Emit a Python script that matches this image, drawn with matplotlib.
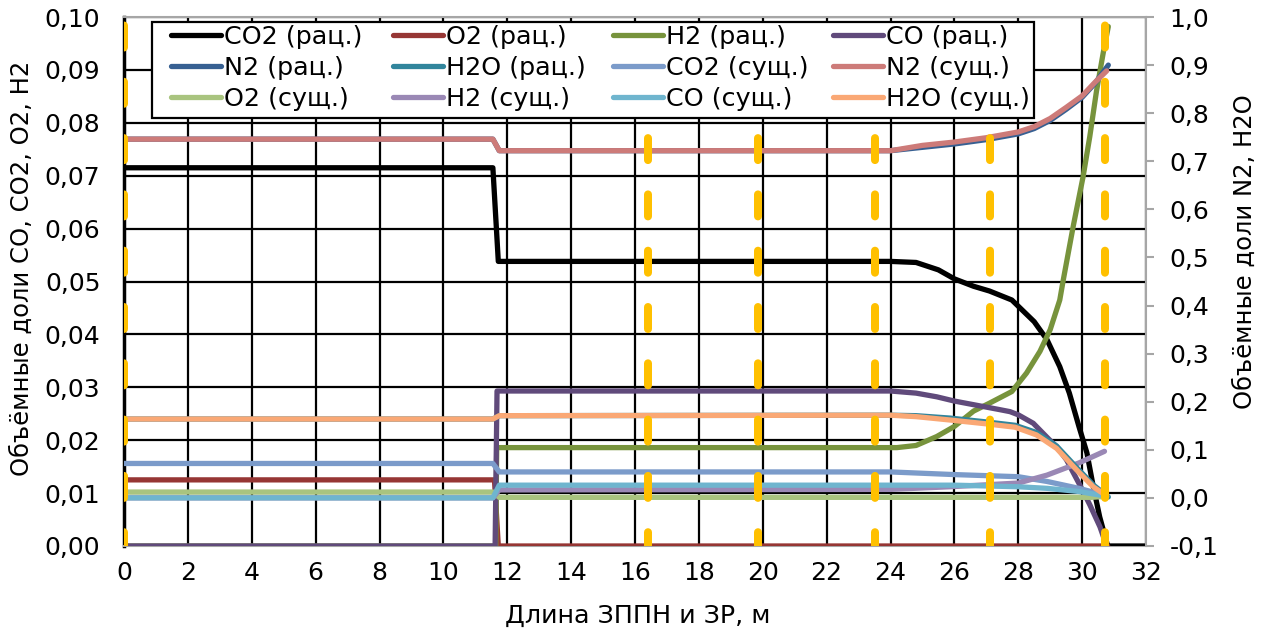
import matplotlib
matplotlib.use("Agg")
import matplotlib.pyplot as plt
from matplotlib.ticker import FuncFormatter, FixedLocator
from matplotlib.lines import Line2D
from matplotlib.patches import Rectangle

plt.rcParams['font.family'] = ['DejaVu Sans']
plt.rcParams['lines.scale_dashes'] = False

# ---------------- data ----------------
x_co2_rac = [0, 11.55, 11.72, 24.0, 24.8, 25.5, 26.0, 26.6, 27.1, 27.8, 28.5, 28.9, 29.3, 29.6, 29.9, 30.15, 30.35, 30.55, 30.8, 32.0]
y_co2_rac = [0.0715, 0.0715, 0.0538, 0.0538, 0.0536, 0.0522, 0.0505, 0.0491, 0.0482, 0.0465, 0.0424, 0.0390, 0.0339, 0.0289, 0.0226, 0.0176, 0.0112, 0.0055, 0.0, 0.0]

x_o2_rac = [0, 11.6, 11.72, 30.8]
y_o2_rac = [0.0125, 0.0125, 0.0, 0.0]

x_h2_rac = [0, 11.64, 11.67, 24.2, 24.8, 25.45, 26.0, 26.6, 27.1, 27.8, 28.26, 28.68, 29.0, 29.3, 29.41, 29.72, 30.03, 30.24, 30.45, 30.66, 30.82]
y_h2_rac = [0, 0, 0.0186, 0.0186, 0.0190, 0.0207, 0.0226, 0.0255, 0.0270, 0.0292, 0.0327, 0.0368, 0.0409, 0.0465, 0.0503, 0.0604, 0.0698, 0.0774, 0.0860, 0.0932, 0.0982]

x_co_rac = [0, 11.62, 11.68, 24.0, 24.8, 25.45, 26.0, 26.7, 27.4, 27.74, 28.0, 28.47, 28.99, 29.2, 29.51, 29.93, 30.24, 30.56, 30.75]
y_co_rac = [0, 0, 0.0293, 0.0293, 0.0289, 0.0282, 0.0274, 0.0266, 0.0258, 0.0254, 0.0248, 0.0232, 0.0200, 0.0188, 0.0163, 0.0115, 0.0078, 0.0036, 0.0003]

x_n2_rac = [0, 11.55, 11.75, 24.0, 25.0, 26.0, 27.0, 28.0, 28.5, 29.0, 29.5, 30.0, 30.4, 30.82]
y_n2_rac = [0.746, 0.746, 0.722, 0.722, 0.729, 0.736, 0.745, 0.757, 0.768, 0.785, 0.808, 0.833, 0.862, 0.900]

x_h2o_rac = [0, 11.55, 11.75, 24.0, 24.8, 25.86, 27.0, 27.9, 28.57, 29.2, 29.83, 30.35, 30.82]
y_h2o_rac = [0.164, 0.164, 0.171, 0.172, 0.171, 0.166, 0.158, 0.151, 0.136, 0.108, 0.063, 0.027, 0.002]

x_co2_sus = [0, 11.55, 11.75, 24.0, 26.0, 28.0, 28.9, 29.9, 30.77]
y_co2_sus = [0.0156, 0.0156, 0.0140, 0.0140, 0.0135, 0.0131, 0.0122, 0.0109, 0.0095]

x_n2_sus = [0, 11.55, 11.75, 24.0, 25.0, 26.0, 27.0, 28.0, 28.5, 29.0, 29.5, 30.0, 30.4, 30.77]
y_n2_sus = [0.746, 0.746, 0.722, 0.722, 0.733, 0.740, 0.749, 0.761, 0.772, 0.789, 0.812, 0.836, 0.864, 0.888]

x_o2_sus = [0, 11.55, 11.75, 30.3, 30.77]
y_o2_sus = [0.0102, 0.0102, 0.0092, 0.0092, 0.0094]

x_h2_sus = [0, 11.55, 11.75, 24.0, 25.86, 28.0, 28.9, 29.9, 30.7]
y_h2_sus = [0.0091, 0.0091, 0.0106, 0.0107, 0.0112, 0.0119, 0.0134, 0.0157, 0.0179]

x_co_sus = [0, 11.55, 11.75, 26.0, 28.0, 28.9, 29.9, 30.77]
y_co_sus = [0.0091, 0.0091, 0.0115, 0.0115, 0.0112, 0.0109, 0.0103, 0.0094]

x_h2o_sus = [0, 11.55, 11.75, 24.0, 24.8, 25.86, 27.0, 27.9, 28.57, 29.2, 29.83, 30.35, 30.77]
y_h2o_sus = [0.164, 0.164, 0.171, 0.172, 0.169, 0.162, 0.154, 0.147, 0.131, 0.103, 0.058, 0.023, 0.004]

zone_x = [0, 16.4, 19.85, 23.5, 27.1, 30.72]

x_ticks = list(range(0, 33, 2))
left_ticks = [0.00, 0.01, 0.02, 0.03, 0.04, 0.05, 0.06, 0.07, 0.08, 0.09, 0.10]
right_ticks = [-0.1, 0.0, 0.1, 0.2, 0.3, 0.4, 0.5, 0.6, 0.7, 0.8, 0.9, 1.0]

labels = ["CO2 (рац.)", "O2 (рац.)", "H2 (рац.)", "CO (рац.)",
          "N2 (рац.)", "H2O (рац.)", "CO2 (сущ.)", "N2 (сущ.)",
          "O2 (сущ.)", "H2 (сущ.)", "CO (сущ.)", "H2O (сущ.)"]
colors = ["#000000", "#963634", "#77933C", "#604A7B",
          "#376092", "#31859C", "#7B9BCA", "#CD7B79",
          "#A9C47F", "#9A88B5", "#6FB5CE", "#FAA875"]

# ---------------- figure ----------------
W, H = 1269, 637
fig = plt.figure(figsize=(W / 100, H / 100), dpi=100)
ax = fig.add_axes([124 / W, 1 - 546 / H, (1146 - 124) / W, (546 - 17) / H])
ax2 = ax.twinx()

FS_TICK = 18
FS_LAB = 17.5
FS_LEG = 18.3
LW = 3.8
kw = dict(lw=LW, solid_capstyle='round', solid_joinstyle='round')

ax.plot(x_co2_rac, y_co2_rac, color=colors[0], zorder=3, **kw)
ax.plot(x_o2_rac, y_o2_rac, color=colors[1], zorder=3, **kw)
ax.plot(x_h2_rac, y_h2_rac, color=colors[2], zorder=3, **kw)
ax.plot(x_co_rac, y_co_rac, color=colors[3], zorder=3, **kw)
ax.plot(x_co2_sus, y_co2_sus, color=colors[6], zorder=3, **kw)
ax.plot(x_o2_sus, y_o2_sus, color=colors[8], zorder=3, **kw)
ax.plot(x_h2_sus, y_h2_sus, color=colors[9], zorder=3, **kw)
ax.plot(x_co_sus, y_co_sus, color=colors[10], zorder=3, **kw)

ax2.plot(x_n2_rac, y_n2_rac, color=colors[4], zorder=3, **kw)
ax2.plot(x_h2o_rac, y_h2o_rac, color=colors[5], zorder=3, **kw)
ax2.plot(x_n2_sus, y_n2_sus, color=colors[7], zorder=3, **kw)
ax2.plot(x_h2o_sus, y_h2o_sus, color=colors[11], zorder=3, **kw)

# yellow dashed zone boundaries (on top of data)
px = 72 / 100
on_len = 22 * px
off_len = 34.3 * px
for zx in zone_x:
    ax2.plot([zx, zx], [1.0, -0.1], color="#FFC000", lw=8 * px,
             ls=(47.8 * px, (on_len, off_len)),
             dash_capstyle='round', zorder=5)

# axes limits / ticks
ax.set_xlim(0, 32)
ax.set_ylim(0, 0.10)
ax2.set_ylim(-0.1, 1.0)
ax.xaxis.set_major_locator(FixedLocator(x_ticks))
ax.yaxis.set_major_locator(FixedLocator(left_ticks))
ax2.yaxis.set_major_locator(FixedLocator(right_ticks))
ax.yaxis.set_major_formatter(FuncFormatter(lambda v, p: f"{v:.2f}".replace('.', ',')))
ax2.yaxis.set_major_formatter(FuncFormatter(lambda v, p: f"{round(v, 1) + 0.0:.1f}".replace('.', ',')))
ax.xaxis.set_major_formatter(FuncFormatter(lambda v, p: f"{int(round(v))}"))

ax.grid(True, color="black", lw=1.6)
ax.set_axisbelow(True)

ax.tick_params(axis='y', length=0, pad=17, labelsize=FS_TICK)
ax.tick_params(axis='x', length=0, pad=11, labelsize=FS_TICK)
ax2.tick_params(axis='y', length=6, width=1.5, color="#A6A6A6", direction='out', pad=11, labelsize=FS_TICK)

gray = "#A6A6A6"
ax.spines['left'].set_color('black'); ax.spines['left'].set_linewidth(2.5)
ax.spines['bottom'].set_color(gray); ax.spines['bottom'].set_linewidth(1.5)
ax.spines['top'].set_color(gray); ax.spines['top'].set_linewidth(1.5)
ax.spines['right'].set_visible(False)
for s in ['left', 'bottom', 'top']:
    ax2.spines[s].set_visible(False)
ax2.spines['right'].set_color(gray); ax2.spines['right'].set_linewidth(1.5)

# axis titles
fig.text(22 / W, 1 - 268 / H, "Объёмные доли CO, CO2, O2, H2", rotation=90,
         ha='center', va='center', fontsize=FS_LAB)
fig.text(1245 / W, 1 - 252 / H, "Объёмные доли N2, H2O", rotation=90,
         ha='center', va='center', fontsize=FS_LAB)
fig.text(638 / W, 1 - 616 / H, "Длина ЗППН и ЗР, м", ha='center', va='center', fontsize=FS_LEG)

# legend box
box = Rectangle((152 / W, 1 - 118 / H), (1034 - 152) / W, (118 - 22) / H,
                transform=fig.transFigure, facecolor='white', edgecolor='black',
                lw=1.6, zorder=20)
fig.patches.append(box)

# legend: 3 rows x 4 columns, row-major order as in the picture
col_x = [171, 393, 613, 833]
for c in range(4):
    idx = [c, c + 4, c + 8]
    hs = [Line2D([], [], color=colors[i], lw=LW, solid_capstyle='round') for i in idx]
    lg = fig.legend(hs, [labels[i] for i in idx], ncol=1,
                    loc='upper left', bbox_to_anchor=(col_x[c] / W, 1 - 25 / H),
                    bbox_transform=fig.transFigure, borderaxespad=0, borderpad=0,
                    fontsize=FS_LEG, frameon=False,
                    handlelength=1.95, handletextpad=0.15, labelspacing=0.28)
    lg.set_zorder(21)

fig.savefig("out.png", dpi=100)
